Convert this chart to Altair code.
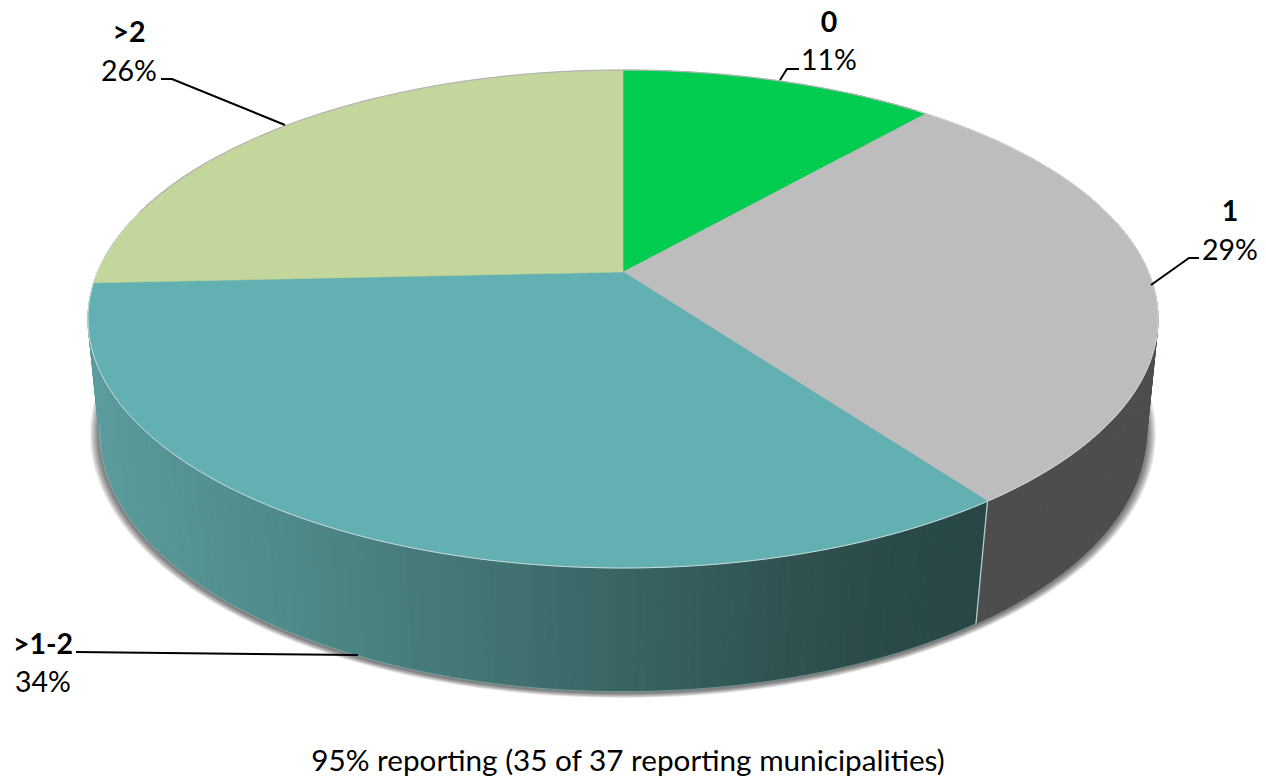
import math
import altair as alt

# --- values ---
CATEGORIES = ["0", "1", ">1-2", ">2"]
COUNTS = [4, 10, 12, 9]                 # municipalities of 35 reporting
PERCENT_LABELS = ["11%", "29%", "34%", "26%"]
TOP_COLORS = ["#00CC50", "#BDBDBD", "#62B0B1", "#C3D69B"]
FOOTER = "95% reporting (35 of 37 reporting municipalities)"

# perspective of the pie disc (image pixels)
CX, CY = 623, 272
TOP = dict(A=525.4, B=240.1, C=0.0, k=0.1888)
BOTTOM = dict(A=515.0, B=251.0, C=115.0, k=0.176)

# wall shading across the image
SHADE_X = [95, 300, 500, 700, 850, 985, 990, 1160]
SHADE_C = ["#5B9C9D", "#4F8888", "#417272", "#345B5B", "#2C4C4B", "#274645", "#4E4C4C", "#4D4D4D"]

LABEL_X = [829, 1230, 43, 129]
NAME_Y = [23, 212, 645, 33]
PCT_Y = [61, 251, 683, 72]
LEADERS = [
    [[780, 80], [787, 69], [799, 69]],
    [[1151, 285], [1189, 258], [1199, 258]],
    [[358, 655], [76, 652]],
    [[285, 125], [172, 79], [161, 79]],
]
FOOTER_POS = (628, 762)


def project(deg, p):
    a = math.radians(deg)
    u, v = math.sin(a), -math.cos(a)
    w = 1 - p["k"] * v
    return [CX + p["A"] * u / w, CY + p["C"] + p["B"] * v / w]


def sweep(a, b, p, step=1.0):
    n = max(2, int(abs(b - a) / step))
    return [project(a + (b - a) * i / n, p) for i in range(n + 1)]


def feature(kind, coords, **props):
    return {"type": "Feature", "properties": props,
            "geometry": {"type": kind, "coordinates": coords}}


def data(features):
    return alt.InlineData(values={"type": "FeatureCollection", "features": features},
                          format=alt.DataFormat(type="json", property="features"))


total = sum(COUNTS)
edges = [0]
for c in COUNTS:
    edges.append(edges[-1] + 360 * c / total)

# top faces
faces = []
for i, col in enumerate(TOP_COLORS):
    ring = [[CX, CY]] + sweep(edges[i], edges[i + 1], TOP) + [[CX, CY]]
    faces.append(feature("Polygon", [ring], color=col))

# wall strips
strips = []
a = 30.0
while a < 300:
    b = a + 1.0
    t0, t1 = project(a, TOP), project(b, TOP)
    b0, b1 = project(a, BOTTOM), project(b, BOTTOM)
    x = (t0[0] + t1[0] + b0[0] + b1[0]) / 4
    # grey wall right of the slice seam, teal to its left
    seam = a + 0.5 < edges[2]
    sx = 1100 if seam else min(x, 984)
    strips.append(feature("Polygon", [[t0, t1, b1, b0, t0]], shade=sx))
    a = b

# soft shadow: nested ellipses round the base
shadow = []
ey, ery, erx = 433, 259, 524
for d in range(9, 0, -1):
    ring = []
    for i in range(181):
        th = 2 * math.pi * i / 180
        ring.append([CX + (erx + d) * math.cos(th), ey + 1 + (ery + d * 0.55) * math.sin(th)])
    shadow.append(feature("Polygon", [ring]))

# rim highlights
rim_front = [feature("LineString", sweep(40, 285, TOP))]
rim_back = [feature("LineString", sweep(285, 400, TOP))]
bottom_rim = [feature("LineString", sweep(edges[2], 262, BOTTOM))]
seam_line = [feature("LineString", [project(edges[2], TOP), project(edges[2], BOTTOM)])]
leaders = [feature("LineString", pts) for pts in LEADERS]

projection = alt.Projection(type="identity", scale=1, translate=[-8, -8])

shadow_layer = alt.Chart(data(shadow)).mark_geoshape(fill="#000000", fillOpacity=0.07, strokeWidth=0)
wall_scale = alt.Scale(domain=SHADE_X, range=SHADE_C)
wall_layer = alt.Chart(data(strips)).mark_geoshape(strokeWidth=0.7).encode(
    fill=alt.Fill("properties.shade:Q", scale=wall_scale, legend=None),
    stroke=alt.Stroke("properties.shade:Q", scale=wall_scale, legend=None),
)
bottom_layer = alt.Chart(data(bottom_rim)).mark_geoshape(filled=False, stroke="#9DBDBD", strokeWidth=0.8, strokeOpacity=0.7)
seam_layer = alt.Chart(data(seam_line)).mark_geoshape(filled=False, stroke="#B9CCCC", strokeWidth=1.3)
face_layer = alt.Chart(data(faces)).mark_geoshape(strokeWidth=0.6).encode(
    fill=alt.Fill("properties.color:N", scale=None),
    stroke=alt.Stroke("properties.color:N", scale=None),
)
front_layer = alt.Chart(data(rim_front)).mark_geoshape(filled=False, stroke="#CBDADA", strokeWidth=1.0)
back_layer = alt.Chart(data(rim_back)).mark_geoshape(filled=False, stroke="#B4B4B4", strokeWidth=1.2)
leader_layer = alt.Chart(data(leaders)).mark_geoshape(filled=False, stroke="#000000", strokeWidth=2)

FONT = "Lato"
names = alt.Chart(alt.Data(values=[
    {"t": t, "lon": x, "lat": y} for t, x, y in zip(CATEGORIES, LABEL_X, NAME_Y)
])).mark_text(font=FONT, fontSize=28.5, fontWeight="bold", color="#000000", align="center", baseline="middle").encode(
    longitude="lon:Q", latitude="lat:Q", text="t:N")
pcts = alt.Chart(alt.Data(values=[
    {"t": t, "lon": x, "lat": y} for t, x, y in zip(PERCENT_LABELS, LABEL_X, PCT_Y)
])).mark_text(font=FONT, fontSize=28.5, color="#000000", align="center", baseline="middle").encode(
    longitude="lon:Q", latitude="lat:Q", text="t:N")
foot = alt.Chart(alt.Data(values=[
    {"t": FOOTER, "lon": FOOTER_POS[0], "lat": FOOTER_POS[1]}
])).mark_text(font=FONT, fontSize=29.7, color="#000000", align="center", baseline="middle").encode(
    longitude="lon:Q", latitude="lat:Q", text="t:N")

chart = alt.layer(
    shadow_layer, wall_layer, bottom_layer, seam_layer, face_layer,
    front_layer, back_layer, leader_layer, names, pcts, foot,
).resolve_scale(fill="independent", stroke="independent").properties(
    width=1250, height=770, padding=0, projection=projection,
).configure_view(stroke=None).configure(background="#FFFFFF")

chart.save("out.html", embed_options={"renderer": "svg", "actions": False})
